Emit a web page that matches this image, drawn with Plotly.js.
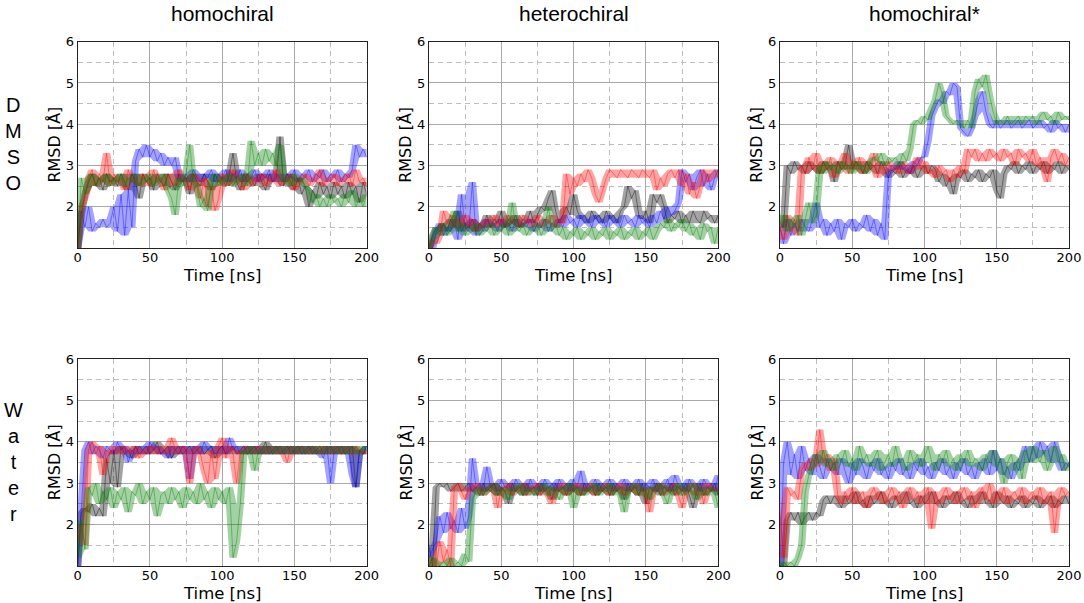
<!DOCTYPE html>
<html>
<head>
<meta charset="utf-8">
<script src="https://cdn.plot.ly/plotly-3.0.1.min.js"></script>
<style>html,body{margin:0;padding:0;background:#fff;}#chart{width:1084px;height:603px;}</style>
</head>
<body>
<div id="chart"></div>
<script>
// Time axis (ns)
const time = [0,2.5,5,7.5,10,12.5,15,17.5,20,22.5,25,27.5,30,32.5,35,37.5,40,42.5,45,47.5,50,52.5,55,57.5,60,62.5,65,67.5,70,72.5,75,77.5,80,82.5,85,87.5,90,92.5,95,97.5,100,102.5,105,107.5,110,112.5,115,117.5,120,122.5,125,127.5,130,132.5,135,137.5,140,142.5,145,147.5,150,152.5,155,157.5,160,162.5,165,167.5,170,172.5,175,177.5,180,182.5,185,187.5,190,192.5,195,197.5,200];

const columnTitles = ["homochiral", "heterochiral", "homochiral*"];
const rowLabels = ["D<br>M<br>S<br>O", "W<br>a<br>t<br>e<br>r"];
const xTickVals = [0,50,100,150,200];
const yTickVals = [2,3,4,5,6];
const xTitle = "Time [ns]";
const yTitle = "RMSD [Å]";

// DMSO homochiral
const dmsoHomoGray = [1.0,1.8,2.3,2.6,2.8,2.5,2.7,2.4,2.8,2.6, 2.7,2.5,2.8,2.6,2.4,2.8,2.6,2.2,2.8,2.6, 2.7,2.4,2.8,2.6,2.5,2.8,2.6,2.4,2.8,2.6, 2.7,2.3,2.8,2.6,2.5,2.8,2.6,2.4,2.8,2.6, 2.7,2.5,2.8,3.3,2.6,2.4,2.8,2.6,2.7,2.5, 2.8,2.6,2.4,2.8,2.6,2.7,3.7,2.5,2.8,2.6, 2.4,2.7,2.3,2.5,2.0,2.4,2.2,2.6,2.3,2.5, 2.2,2.6,2.3,2.5,2.2,2.6,2.3,2.5,2.1,2.6,2.3];
const dmsoHomoRed = [1.0,2.0,2.2,2.7,2.9,2.5,2.8,2.6,3.3,2.5, 2.8,2.6,2.7,2.4,2.9,2.6,2.7,2.5,2.8,2.6, 2.5,2.9,2.6,2.7,2.4,2.8,2.6,2.5,2.9,2.6, 2.7,2.4,2.8,2.6,2.2,2.7,2.0,2.5,1.9,2.2, 2.8,2.6,2.5,2.9,2.6,2.7,2.4,2.8,2.5,2.7, 2.6,2.8,2.5,2.7,2.6,2.9,2.5,2.7,2.6,2.8, 2.4,2.7,2.6,2.8,2.5,2.7,2.6,2.9,2.5,2.7, 2.6,2.8,2.5,2.7,2.6,2.8,2.5,2.9,2.6,2.7,2.5];
const dmsoHomoBlue = [1.0,1.9,1.5,2.0,1.4,1.6,1.5,1.7,1.5,1.6, 2.0,1.4,2.3,1.3,2.4,1.5,3.1,3.4,3.2,3.5, 3.2,3.4,3.1,3.3,3.0,3.2,3.0,3.2,2.7,2.6, 2.8,2.6,2.9,2.7,2.6,2.8,2.7,2.9,2.6,2.8, 2.7,2.9,2.6,2.8,2.7,2.9,2.6,2.8,2.7,2.9, 2.6,2.8,2.7,2.9,2.6,2.8,2.7,2.6,2.8,2.7, 2.9,2.6,2.8,2.7,2.9,2.6,2.8,2.7,2.9,2.6, 2.8,2.7,2.9,2.6,2.8,2.7,2.9,3.5,3.2,3.4,3.2];
const dmsoHomoGreen = [1.0,2.7,2.3,2.6,2.8,2.5,2.7,2.6,2.8,2.5, 2.7,2.6,2.8,2.5,2.7,2.6,2.8,2.5,2.7,2.6, 2.8,2.5,2.7,2.6,2.8,2.4,2.2,1.8,2.7,2.5, 2.8,3.5,2.6,2.5,2.0,2.2,1.9,2.6,2.8,2.5, 2.7,2.6,2.8,2.5,2.7,2.6,2.8,2.5,3.6,3.0, 3.3,3.0,3.4,3.1,3.3,3.0,3.5,2.6,2.7,2.5, 2.8,2.6,2.7,2.5,2.4,2.1,2.3,2.0,2.2,2.0, 2.3,2.1,2.2,2.0,2.3,2.1,2.4,2.0,2.2,2.0,2.3];

// DMSO heterochiral
const dmsoHeteroGray = [1.0,1.3,1.5,1.4,1.6,1.4,1.7,1.5,1.9,1.4, 1.6,1.5,1.7,1.4,1.6,1.5,1.8,1.5,1.7,1.6, 1.9,1.5,1.7,1.6,1.8,1.5,1.7,1.6,1.9,1.6, 1.8,2.0,1.9,2.2,2.4,1.9,1.6,1.8,2.0,1.8, 2.3,1.9,1.7,1.8,1.6,1.9,1.7,1.8,1.6,1.9, 1.7,1.8,1.6,1.9,2.0,2.5,2.2,2.4,1.8,1.7, 1.9,1.6,2.3,2.1,2.3,2.0,1.6,1.8,1.7,1.9, 1.6,1.8,1.6,1.9,1.7,1.6,1.9,1.7,1.8,1.6,1.8];
const dmsoHeteroRed = [1.0,1.2,1.1,1.3,1.9,1.6,1.8,1.5,1.7,1.5, 1.8,1.5,1.7,1.4,1.6,1.5,1.7,1.5,1.8,1.5, 1.7,1.5,1.8,1.6,1.7,1.5,1.8,1.6,1.7,1.5, 1.8,1.5,1.7,1.6,1.8,1.5,1.7,1.6,2.8,2.3, 2.7,2.5,2.8,2.6,2.9,2.7,2.3,2.1,2.4,2.7, 2.9,2.8,2.7,2.9,2.8,2.7,2.9,2.8,2.7,2.9, 2.8,2.7,2.9,2.4,2.7,2.5,2.8,2.9,2.7,2.9, 2.5,2.8,2.3,2.6,2.2,2.5,2.9,2.6,2.8,2.9,2.7];
const dmsoHeteroBlue = [1.1,1.0,1.4,1.6,1.3,1.5,1.4,1.7,1.2,2.3, 1.5,1.4,2.6,1.3,1.6,1.4,1.7,1.5,1.6,1.4, 1.7,1.5,1.6,1.4,1.7,1.5,1.6,1.5,1.7,1.4, 1.6,1.5,1.7,1.4,1.6,1.5,1.7,1.5,1.8,1.6, 1.7,1.5,1.8,1.6,1.7,1.5,1.8,1.6,1.7,1.5, 1.8,1.6,1.7,1.5,1.8,1.6,1.7,1.5,1.8,1.6, 1.7,1.5,1.8,1.6,1.9,1.7,2.0,1.8,1.9,2.1, 2.9,2.6,2.8,2.4,2.7,2.9,2.5,2.8,2.4,2.7,2.9];
const dmsoHeteroGreen = [1.0,1.2,1.5,1.3,1.6,1.3,1.5,1.9,1.4,1.6, 1.3,1.5,1.4,1.6,1.3,1.5,1.4,1.6,1.3,1.5, 1.4,1.6,1.3,2.1,1.5,1.4,1.6,1.3,1.5,1.4, 1.6,1.3,1.5,2.0,1.4,1.6,1.3,1.5,1.2,1.4, 1.3,1.5,1.2,1.4,1.3,1.5,1.2,1.4,1.3,1.5, 1.2,1.4,1.3,1.5,1.2,1.4,1.3,1.5,1.2,1.4, 1.3,1.5,1.2,1.4,1.6,1.5,1.7,1.4,1.6,1.5, 1.7,1.4,1.6,1.3,1.5,1.2,1.6,1.4,1.5,1.1,1.5];

// DMSO homochiral*
const dmsoStarGray = [1.6,1.5,3.0,2.8,3.1,2.9,3.0,2.8,3.1,2.9, 3.0,2.8,3.1,2.9,3.0,2.6,3.1,2.9,3.0,3.5, 2.9,3.1,3.0,2.8,3.1,2.9,3.0,2.8,3.1,2.9, 2.7,2.9,2.8,3.0,2.7,2.9,2.8,3.0,2.7,2.9, 3.0,2.8,3.0,2.9,2.6,2.8,2.5,2.7,2.3,2.8, 2.7,2.9,2.6,2.8,2.7,2.9,2.6,2.8,2.7,2.9, 2.4,2.2,2.8,3.0,2.9,3.1,2.8,3.0,2.9,3.1, 2.8,3.0,2.9,3.1,2.8,3.0,2.9,3.1,2.8,3.0,2.9];
const dmsoStarRed = [1.5,1.2,1.8,1.4,1.7,1.3,3.0,2.8,3.2,2.9, 3.3,2.8,3.1,2.9,3.2,2.7,3.1,2.9,3.3,2.8, 3.1,2.9,3.2,2.8,3.1,2.9,3.3,2.7,3.0,2.8, 3.1,2.9,3.0,2.8,3.1,2.9,2.8,3.0,3.2,2.9, 3.1,2.8,2.9,2.7,3.0,2.8,2.9,2.6,2.9,2.7, 3.0,2.8,3.4,3.2,3.4,3.1,3.3,3.1,3.4,3.2, 3.3,3.1,3.4,3.2,3.3,3.0,3.4,3.2,3.3,3.1, 3.4,3.0,3.2,2.9,2.6,3.2,3.4,3.1,3.3,3.0,3.2];
const dmsoStarBlue = [1.5,1.1,1.7,1.3,1.6,1.4,1.7,1.5,1.4,1.7, 2.1,1.5,1.7,1.3,1.6,1.4,1.7,1.2,1.6,1.5, 1.7,1.4,1.6,1.5,1.8,1.4,1.7,1.3,1.6,1.2, 2.8,3.0,2.9,3.1,2.9,3.0,2.8,3.1,3.0,3.2, 3.2,3.6,4.2,4.4,4.6,4.5,4.8,4.7,5.0,4.9, 3.9,3.8,3.7,3.9,4.2,4.6,4.8,4.3,4.0,3.9, 4.1,3.9,4.0,4.1,3.9,4.0,4.1,3.9,4.0,4.1, 3.9,4.0,4.1,3.9,4.0,3.8,4.1,3.9,4.0,3.8,4.0];
const dmsoStarGreen = [1.6,1.8,1.4,1.7,1.5,1.8,1.3,1.7,2.1,1.6, 1.8,3.0,2.8,3.1,2.9,3.0,2.8,3.1,2.9,3.0, 2.8,3.1,2.9,3.0,2.8,3.1,3.2,3.1,3.3,3.0, 3.2,3.1,3.2,3.0,3.3,3.1,3.4,4.0,4.1,4.0, 4.2,4.1,4.4,4.6,5.0,4.7,4.2,4.1,4.0,4.1, 4.0,3.9,4.1,3.9,4.8,5.1,4.9,5.2,4.7,4.3, 4.0,4.1,4.0,4.2,4.0,4.1,4.2,4.0,4.2,4.1, 4.2,4.0,4.2,4.3,4.1,4.2,4.0,4.3,4.1,4.2,4.1];

// Water homochiral
const waterHomoGray = [1.0,2.3,2.4,2.3,2.5,2.2,2.4,2.2,3.6,3.0, 3.8,2.9,3.9,3.7,3.8,3.6,3.9,3.7,3.8,3.9, 3.7,3.8,4.0,3.7,3.8,3.9,3.6,3.8,3.9,3.7, 3.8,3.9,3.7,3.8,3.9,3.7,3.8,3.9,3.6,3.8, 3.9,3.7,3.8,3.9,3.7,3.8,3.9,3.7,3.8,3.9, 3.7,3.8,4.0,3.7,3.8,3.9,3.7,3.8,3.9,3.7, 3.8,3.9,3.7,3.8,3.9,3.7,3.8,3.9,3.7,3.8, 3.9,3.7,3.8,3.9,3.7,3.8,3.9,2.9,3.8,3.7,3.9];
const waterHomoRed = [1.6,2.0,1.5,3.8,4.0,3.7,3.9,3.2,3.8,3.7, 3.9,3.8,3.7,3.9,3.8,3.7,3.9,3.6,3.8,3.7, 3.9,3.8,3.7,3.9,3.8,3.7,4.1,3.8,3.7,3.9, 3.8,3.0,3.8,3.9,3.7,3.3,3.0,3.8,3.1,3.9, 4.1,3.6,3.9,3.7,3.0,3.8,3.7,3.9,3.8,3.7, 3.9,3.8,3.7,3.9,3.8,3.7,3.9,3.8,3.5,3.9, 3.8,3.7,3.9,3.8,3.7,3.9,3.8,3.7,3.9,3.8, 3.7,3.9,3.8,3.7,3.9,3.8,3.7,3.9,3.8,3.7,3.8];
const waterHomoBlue = [1.0,2.5,3.8,4.0,3.7,3.9,3.8,3.6,3.9,3.8, 3.7,4.0,3.8,3.9,3.5,3.8,3.7,3.9,3.8,3.7, 4.0,3.8,3.9,3.7,3.8,3.6,3.9,3.8,3.7,3.9, 3.8,3.1,3.9,3.8,3.7,4.0,3.8,3.9,3.7,3.8, 3.9,3.7,4.1,3.8,3.9,3.7,3.8,3.9,3.7,3.8, 3.9,3.7,3.8,3.9,3.7,3.8,3.9,3.7,3.8,3.9, 3.7,3.8,3.9,3.7,3.8,3.9,3.7,3.8,3.6,3.9, 3.0,3.8,3.9,3.7,3.8,3.9,3.2,2.9,3.8,3.7,3.9];
const waterHomoGreen = [1.2,2.1,1.4,2.9,2.7,3.0,2.5,2.8,2.6,2.9, 2.4,2.8,2.6,2.9,2.3,2.8,2.7,3.0,2.5,2.8, 2.6,2.9,2.2,2.7,2.8,2.5,2.9,2.6,2.8,2.4, 2.9,2.6,2.8,2.5,3.0,2.6,2.8,2.4,2.9,2.6, 2.8,2.5,2.9,1.2,1.6,2.5,3.8,3.7,3.9,3.3, 3.8,3.7,3.9,3.8,3.7,3.9,3.8,3.7,3.9,3.8, 3.7,3.9,3.8,3.7,3.9,3.8,3.7,3.9,3.8,3.7, 3.9,3.8,3.7,3.9,3.8,3.7,3.9,3.8,3.7,3.9,3.8];

// Water heterochiral
const waterHeteroGray = [1.5,1.0,2.9,3.0,2.9,3.0,2.8,2.9,3.0,2.8, 2.9,3.0,2.8,2.9,2.7,3.0,2.8,2.9,3.0,2.7, 2.9,2.8,2.5,3.0,2.8,2.9,2.7,3.0,2.8,2.9, 2.7,3.0,2.8,2.9,2.6,3.0,2.8,2.9,2.7,3.0, 2.8,2.9,2.7,3.0,2.8,2.9,2.7,3.0,2.8,2.9, 2.7,3.0,2.8,2.9,2.6,3.0,2.8,2.9,2.7,3.0, 2.5,2.9,2.8,3.0,2.7,2.9,2.8,3.0,2.7,2.9, 2.8,3.0,2.7,2.4,2.8,3.0,2.7,2.9,2.8,3.0,2.7];
const waterHeteroRed = [1.0,1.2,1.0,1.6,1.1,1.4,1.0,2.9,3.0,2.8, 2.6,2.9,2.8,3.0,2.9,2.7,2.9,2.8,3.0,2.4, 2.9,2.8,3.0,2.7,2.9,2.8,3.0,2.7,2.9,2.8, 3.0,2.7,2.9,2.8,2.5,2.9,2.8,3.0,2.7,2.9, 2.8,3.0,2.7,2.9,2.8,3.0,2.7,2.9,2.8,3.0, 2.7,2.9,2.8,3.0,2.7,2.9,2.8,3.0,2.7,2.9, 2.8,2.3,2.9,2.8,3.0,2.7,2.9,2.8,3.0,2.7, 2.4,2.9,2.8,3.0,2.7,2.9,2.5,3.0,2.8,2.9,2.8];
const waterHeteroBlue = [1.2,1.4,1.6,2.2,1.8,2.3,1.9,2.1,1.8,2.4, 1.9,2.2,3.6,2.9,3.0,2.8,3.4,2.9,3.0,2.8, 3.1,2.9,3.0,2.8,3.1,2.9,3.0,2.8,3.1,2.9, 3.0,2.8,3.1,2.9,3.0,2.8,3.1,2.9,3.0,2.8, 3.1,2.9,3.3,2.8,3.0,2.9,3.1,2.8,3.0,2.9, 3.1,2.8,3.0,2.9,3.1,2.8,3.0,2.9,3.1,2.8, 3.0,2.9,3.1,2.8,3.0,2.9,3.1,2.8,3.2,2.9, 3.0,2.8,3.1,2.9,3.0,2.8,3.1,2.9,3.0,2.8,3.2];
const waterHeteroGreen = [1.0,1.2,1.1,1.0,1.1,1.0,1.2,1.0,1.1,1.0, 1.3,1.1,2.6,2.8,2.9,2.7,2.9,2.8,3.0,2.7, 2.9,2.8,2.6,2.9,2.8,3.0,2.7,2.9,2.8,2.7, 2.9,2.8,3.0,2.7,2.9,2.8,2.6,2.9,2.8,3.0, 2.4,2.9,2.8,2.7,2.9,2.8,3.0,2.7,2.9,2.8, 3.0,2.7,2.9,2.8,2.3,2.9,2.8,3.0,2.7,2.9, 2.8,2.6,2.9,2.8,3.0,2.7,2.5,2.9,2.8,3.0, 2.7,2.9,2.8,3.0,2.6,2.9,2.8,2.7,2.9,2.8,2.4];

// Water homochiral*
const waterStarGray = [1.0,1.0,2.1,2.3,2.1,2.3,2.0,2.2,2.3,2.1, 2.3,2.2,2.6,2.7,2.5,2.7,2.6,2.4,2.7,2.5, 2.6,2.8,2.5,2.6,2.4,2.7,2.5,2.6,2.8,2.5, 2.6,2.4,2.7,2.5,2.6,2.8,2.5,2.6,2.4,2.7, 2.5,2.6,2.8,2.5,2.6,2.4,2.7,2.5,2.6,2.8, 2.5,2.6,2.4,2.7,2.5,2.6,2.8,2.5,2.6,2.4, 2.8,2.6,2.5,2.7,2.4,2.6,2.5,2.7,2.4,2.6, 2.5,2.7,2.4,2.6,2.5,2.7,2.4,2.6,2.5,2.7,2.5];
const waterStarRed = [2.2,1.2,2.9,2.7,2.8,2.6,3.3,3.5,3.3,3.6, 3.4,4.3,3.5,3.7,3.3,3.6,2.7,2.5,2.8,2.6, 2.9,2.5,2.7,2.8,2.4,2.7,2.9,2.6,2.8,2.5, 2.7,2.9,2.6,2.8,2.4,2.7,2.9,2.6,2.8,2.5, 2.7,2.9,1.9,2.8,2.5,2.7,2.9,2.6,2.8,2.5, 2.7,2.9,2.6,2.8,2.4,2.7,2.9,2.6,3.0,2.5, 2.8,2.6,2.9,2.5,2.7,2.8,2.6,2.9,2.5,2.7, 2.8,2.6,2.9,2.5,2.7,2.8,1.8,2.6,2.9,2.7,2.8];
const waterStarBlue = [1.0,3.5,4.0,3.2,3.7,3.1,3.9,3.3,3.6,3.2, 3.7,3.4,3.1,3.6,3.3,3.5,3.2,3.6,3.3,3.0, 3.5,3.2,3.6,3.4,3.1,3.5,3.3,3.6,3.2,3.4, 3.1,3.5,3.3,3.6,3.2,3.4,3.1,3.5,3.3,3.6, 3.2,3.4,3.1,3.5,3.3,3.6,3.2,3.4,3.1,3.5, 3.3,3.6,3.2,3.4,3.1,3.5,3.3,3.6,3.2,3.8, 3.3,3.6,3.2,3.4,3.1,3.5,3.3,3.6,3.9,3.5, 3.9,3.6,4.0,3.7,3.9,3.5,4.0,3.7,3.3,3.5,3.4];
const waterStarGreen = [1.0,1.1,1.0,1.1,1.0,1.2,1.5,2.8,3.2,3.4, 3.7,3.5,3.8,3.4,3.6,3.3,3.7,3.5,3.8,3.4, 3.6,3.3,3.9,3.5,3.7,3.4,3.6,3.8,3.3,3.5, 3.7,3.4,3.9,3.5,3.6,3.3,3.8,3.5,3.7,3.4, 3.6,3.9,3.5,3.3,3.7,3.5,3.8,3.4,3.6,3.3, 3.7,3.5,3.8,3.4,3.6,3.5,3.3,3.7,3.5,3.8, 3.4,3.6,3.0,3.5,3.7,3.3,3.6,3.1,3.8,3.5, 3.9,3.7,3.5,3.8,3.3,3.6,3.9,3.5,3.7,3.3,3.5];

// each panel: [gray, red, blue, green]
const panels = [
  [dmsoHomoGray, dmsoHomoRed, dmsoHomoBlue, dmsoHomoGreen],
  [dmsoHeteroGray, dmsoHeteroRed, dmsoHeteroBlue, dmsoHeteroGreen],
  [dmsoStarGray, dmsoStarRed, dmsoStarBlue, dmsoStarGreen],
  [waterHomoGray, waterHomoRed, waterHomoBlue, waterHomoGreen],
  [waterHeteroGray, waterHeteroRed, waterHeteroBlue, waterHeteroGreen],
  [waterStarGray, waterStarRed, waterStarBlue, waterStarGreen]
];
const seriesRGB = ['0,0,0', '255,0,0', '0,0,255', '0,128,0'];
const drawOrder = [0, 2, 1, 3]; // gray, blue, red, green on top

// local spread of the fluctuating trace (min / max of neighbouring samples)
function envelope(vals, pick) {
  return vals.map((v, i) => pick(vals[Math.max(0, i - 1)], v, vals[Math.min(vals.length - 1, i + 1)]));
}

const W = 1084, H = 603;
const colPx = [[77.7, 366.7], [429, 718.3], [780, 1069]];
const rowPx = [[41.7, 248], [359, 566]];

const traces = [];
const layout = {
  width: W, height: H,
  margin: {l: 0, r: 0, t: 0, b: 0},
  paper_bgcolor: '#fff', plot_bgcolor: '#fff',
  showlegend: false,
  font: {family: 'DejaVu Sans', color: '#000'},
  annotations: []
};

panels.forEach((series, k) => {
  const r = Math.floor(k / 3), c = k % 3, n = k + 1;
  const suf = (n === 1 ? '' : String(n));
  const xa = 'x' + suf, ya = 'y' + suf;
  drawOrder.forEach(s => {
    const vals = series[s];
    traces.push({x: time, y: envelope(vals, Math.min), xaxis: xa, yaxis: ya, type: 'scatter', mode: 'lines',
      line: {width: 0, color: 'rgba(0,0,0,0)'}, hoverinfo: 'skip'});
    traces.push({x: time, y: envelope(vals, Math.max), xaxis: xa, yaxis: ya, type: 'scatter', mode: 'lines',
      fill: 'tonexty', fillcolor: 'rgba(' + seriesRGB[s] + ',0.36)',
      line: {width: 0, color: 'rgba(0,0,0,0)'}, hoverinfo: 'skip'});
    traces.push({x: time, y: vals, xaxis: xa, yaxis: ya, type: 'scatter', mode: 'lines',
      line: {color: 'rgba(' + seriesRGB[s] + ',0.45)', width: 0.9}, hoverinfo: 'skip'});
  });
  const xd = [colPx[c][0] / W, colPx[c][1] / W];
  const yd = [1 - rowPx[r][1] / H, 1 - rowPx[r][0] / H];
  const common = {
    showline: true, mirror: true, linecolor: '#222', linewidth: 1,
    ticks: '', zeroline: false, showgrid: true, gridcolor: '#a8a8a8', gridwidth: 1,
    tickfont: {family: 'DejaVu Sans', size: 13, color: '#000'}, fixedrange: true
  };
  layout['xaxis' + suf] = Object.assign({}, common, {
    domain: xd, anchor: ya, range: [0, 200], tickmode: 'array', tickvals: xTickVals,
    ticklabelstandoff: -3,
    minor: {dtick: 25, tick0: 0, showgrid: true, gridcolor: '#bdbdbd', griddash: '5px,4px', gridwidth: 1, ticks: ''}
  });
  layout['yaxis' + suf] = Object.assign({}, common, {
    domain: yd, anchor: xa, range: [1, 6], tickmode: 'array', tickvals: yTickVals,
    minor: {dtick: 0.5, tick0: 0, showgrid: true, gridcolor: '#bdbdbd', griddash: '5px,4px', gridwidth: 1, ticks: ''}
  });
  layout.annotations.push({xref: 'paper', yref: 'paper', x: (colPx[c][0] - 23) / W, y: 1 - (rowPx[r][0] + rowPx[r][1]) / 2 / H,
    text: yTitle, textangle: -90, showarrow: false, xanchor: 'center', yanchor: 'middle',
    font: {family: 'DejaVu Sans', size: 16, color: '#000'}});
  layout.annotations.push({xref: 'paper', yref: 'paper', x: (colPx[c][0] + colPx[c][1]) / 2 / W, y: 1 - (rowPx[r][1] + 27) / H,
    text: xTitle, showarrow: false, xanchor: 'center', yanchor: 'middle',
    font: {family: 'DejaVu Sans', size: 16.5, color: '#000'}});
});

columnTitles.forEach((t, c) => {
  layout.annotations.push({xref: 'paper', yref: 'paper', x: (colPx[c][0] + colPx[c][1]) / 2 / W, y: 1 - 13 / H,
    text: t, showarrow: false, xanchor: 'center', yanchor: 'middle',
    font: {family: 'Liberation Sans', size: 21, color: '#000'}});
});
const rowCenters = [144, 462];
rowLabels.forEach((t, r) => {
  layout.annotations.push({xref: 'paper', yref: 'paper', x: 13 / W, y: 1 - rowCenters[r] / H,
    text: t, showarrow: false, xanchor: 'center', yanchor: 'middle', align: 'center',
    font: {family: 'Liberation Sans', size: 20, color: '#000'}});
});

Plotly.newPlot('chart', traces, layout, {staticPlot: true, displayModeBar: false});
</script>
</body>
</html>
